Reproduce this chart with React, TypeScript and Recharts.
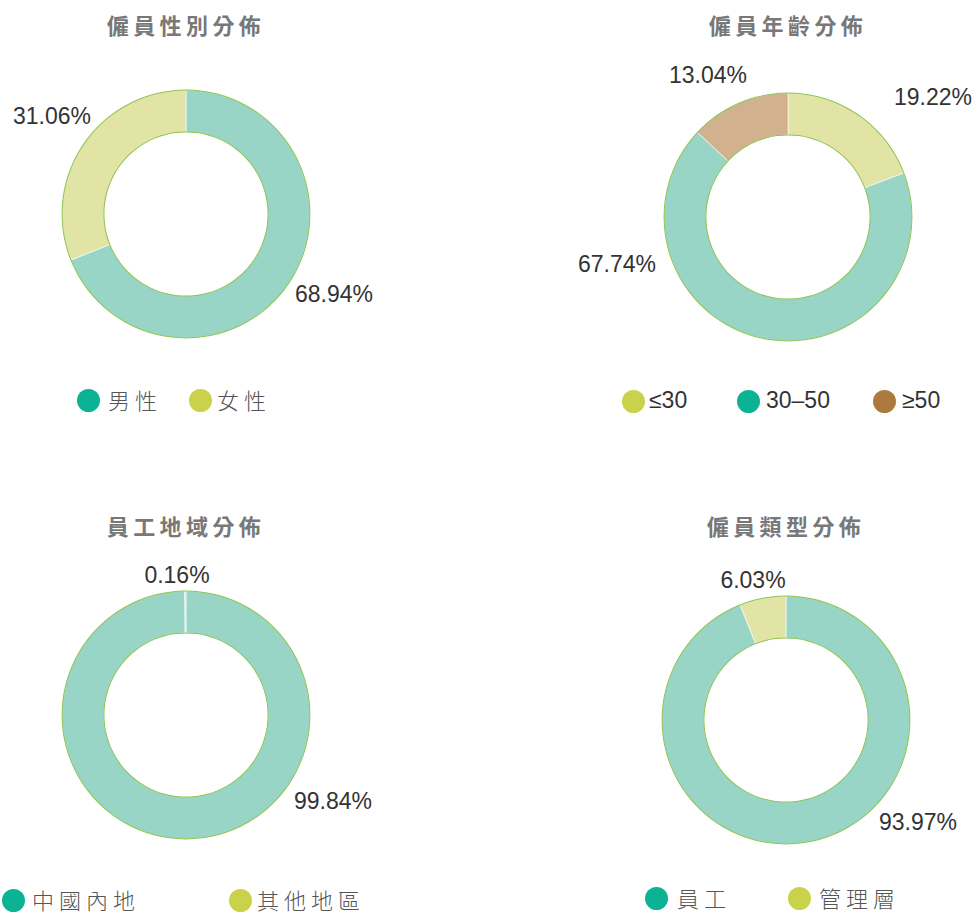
import { PieChart, Pie, Cell } from "recharts"

// data
const genderNames = ["男性", "女性"]
const genderValues = [68.94, 31.06]

const ageNames = ["≤30", "30–50", "≥50"]
const ageValues = [19.22, 67.74, 13.04]

const regionNames = ["中國內地", "其他地區"]
const regionValues = [99.84, 0.16]

const typeNames = ["員工", "管理層"]
const typeValues = [93.97, 6.03]

const titles = ["僱員性別分佈", "僱員年齡分佈", "員工地域分佈", "僱員類型分佈"]

const TEAL = "#99d5c6"
const YELLOW = "#e2e4a6"
const TAN = "#d1b18e"
const DOT_TEAL = "#0bb394"
const DOT_YELLOW = "#c9d24a"
const DOT_BROWN = "#ad7a3d"
const RING = "#8cc34f"

const CJK = '"Noto Sans CJK TC", "Noto Sans CJK SC", sans-serif'
const LATIN = '"Liberation Sans", Arial, sans-serif'

const toRows = (names: string[], values: number[]) =>
  names.map((name, i) => ({ name, value: values[i] }))

type ChartCfg = {
  rows: { name: string; value: number }[]
  fills: string[]
  dots: string[]
  cx: number
  cy: number
  labels: number[][] // label offsets from centre
  titleX: number
  titleY: number
  legend: { dot: number; text: number }[]
  legendY: number
  latinLegend?: boolean
}

const charts: ChartCfg[] = [
  {
    rows: toRows(genderNames, genderValues),
    fills: [TEAL, YELLOW],
    dots: [DOT_TEAL, DOT_YELLOW],
    cx: 186,
    cy: 214,
    labels: [[148, 80], [-134, -98]],
    titleX: 184,
    titleY: 24,
    legend: [{ dot: 88.5, text: 108 }, { dot: 200.5, text: 217 }],
    legendY: 400,
  },
  {
    rows: toRows(ageNames, ageValues),
    fills: [YELLOW, TEAL, TAN],
    dots: [DOT_YELLOW, DOT_TEAL, DOT_BROWN],
    cx: 788,
    cy: 217,
    labels: [[145, -120], [-171, 47], [-80, -142]],
    titleX: 786,
    titleY: 24,
    legend: [{ dot: 633, text: 649 }, { dot: 748, text: 766 }, { dot: 884, text: 902 }],
    legendY: 401,
    latinLegend: true,
  },
  {
    rows: toRows(regionNames, regionValues),
    fills: [TEAL, YELLOW],
    dots: [DOT_TEAL, DOT_YELLOW],
    cx: 186,
    cy: 715,
    labels: [[147, 86], [-9, -140]],
    titleX: 184,
    titleY: 525,
    legend: [{ dot: 13.5, text: 32 }, { dot: 240.5, text: 257 }],
    legendY: 900,
  },
  {
    rows: toRows(typeNames, typeValues),
    fills: [TEAL, YELLOW],
    dots: [DOT_TEAL, DOT_YELLOW],
    cx: 786,
    cy: 720,
    labels: [[132, 102], [-33, -140]],
    titleX: 784,
    titleY: 525,
    legend: [{ dot: 656.5, text: 677 }, { dot: 799.5, text: 819 }],
    legendY: 898,
  },
]

const ringData = [{ name: "ring", value: 1 }]

function makeLabel(c: ChartCfg) {
  return (props: any) => {
    const off = c.labels[props.index] || [0, 0]
    return (
      <text
        x={c.cx + off[0]}
        y={c.cy + off[1]}
        textAnchor="middle"
        dominantBaseline="central"
        fill="#333"
        fontFamily={LATIN}
        fontSize={23}
      >
        {`${props.value.toFixed(2)}%`}
      </text>
    )
  }
}

export default function App() {
  return (
    <div style={{ position: "absolute", left: 0, top: 0, width: 977, height: 913, background: "#fff" }}>
      <PieChart width={977} height={913} margin={{ top: 0, right: 0, bottom: 0, left: 0 }}>
        {charts.map((c, ci) => (
          <Pie
            key={`pie-${ci}`}
            data={c.rows}
            dataKey="value"
            nameKey="name"
            cx={c.cx}
            cy={c.cy}
            innerRadius={82}
            outerRadius={124}
            startAngle={90}
            endAngle={-270}
            stroke="#ffffff"
            strokeWidth={0.6}
            label={makeLabel(c)}
            labelLine={false}
            isAnimationActive={false}
          >
            {c.rows.map((r, i) => (
              <Cell key={`cell-${ci}-${i}`} fill={c.fills[i]} />
            ))}
          </Pie>
        ))}
        {charts.map((c, ci) => (
          <Pie
            key={`outer-${ci}`}
            data={ringData}
            dataKey="value"
            cx={c.cx}
            cy={c.cy}
            innerRadius={123.4}
            outerRadius={124.4}
            startAngle={90}
            endAngle={-270}
            fill={RING}
            stroke="none"
            isAnimationActive={false}
          />
        ))}
        {charts.map((c, ci) => (
          <Pie
            key={`inner-${ci}`}
            data={ringData}
            dataKey="value"
            cx={c.cx}
            cy={c.cy}
            innerRadius={81.6}
            outerRadius={82.6}
            startAngle={90}
            endAngle={-270}
            fill={RING}
            stroke="none"
            isAnimationActive={false}
          />
        ))}
      </PieChart>

      {charts.map((c, ci) => (
        <div
          key={`title-${ci}`}
          style={{
            position: "absolute",
            left: c.titleX - 150 + 2,
            top: c.titleY - 15,
            width: 300,
            height: 30,
            lineHeight: "30px",
            textAlign: "center",
            fontFamily: CJK,
            fontWeight: 700,
            fontSize: 22,
            letterSpacing: 4.4,
            color: "#787878",
          }}
        >
          {titles[ci]}
        </div>
      ))}

      {charts.map((c, ci) =>
        c.rows.map((r, i) => (
          <div key={`leg-${ci}-${i}`}>
            <div
              style={{
                position: "absolute",
                left: c.legend[i].dot - 11.5,
                top: c.legendY - 11.5,
                width: 23,
                height: 23,
                borderRadius: "50%",
                background: c.dots[i],
              }}
            />
            <div
              style={{
                position: "absolute",
                left: c.legend[i].text,
                top: c.legendY - 12,
                height: 22,
                lineHeight: "22px",
                whiteSpace: "nowrap",
                fontFamily: c.latinLegend ? LATIN : CJK,
                fontWeight: c.latinLegend ? 400 : 300,
                fontSize: c.latinLegend ? 23 : 22,
                letterSpacing: c.latinLegend ? 0 : 5,
                color: c.latinLegend ? "#333" : "#555",
              }}
            >
              {r.name}
            </div>
          </div>
        ))
      )}
    </div>
  )
}
